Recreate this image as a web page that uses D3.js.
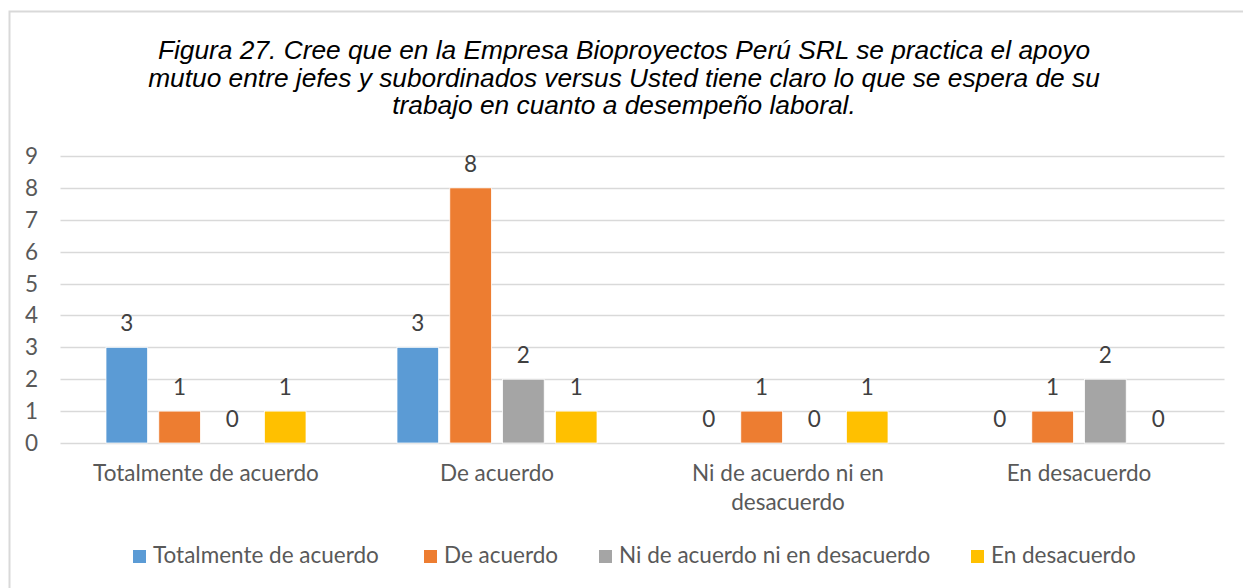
<!DOCTYPE html>
<html>
<head>
<meta charset="utf-8">
<script src="https://cdn.jsdelivr.net/npm/d3@7"></script>
<style>
  body { margin: 0; background: #fff; }
  svg { display: block; }
</style>
</head>
<body>
<div class="container"></div>
<script>
const categories = ["Totalmente de acuerdo", "De acuerdo", "Ni de acuerdo ni en desacuerdo", "En desacuerdo"];
const seriesNames = ["Totalmente de acuerdo", "De acuerdo", "Ni de acuerdo ni en desacuerdo", "En desacuerdo"];
const seriesColors = ["#5B9BD5", "#ED7D31", "#A5A5A5", "#FFC000"];
// values[series][category]
const values = [
  [3, 3, 0, 0],
  [1, 8, 1, 1],
  [0, 2, 0, 2],
  [1, 1, 1, 0]
];
const yTicks = [0, 1, 2, 3, 4, 5, 6, 7, 8, 9];
const titleLines = [
  "Figura 27. Cree que en la Empresa Bioproyectos Perú SRL se practica el apoyo",
  "mutuo entre jefes y subordinados versus Usted tiene claro lo que se espera de su",
  "trabajo en cuanto a desempeño laboral."
];

const w = 1243, h = 588;
const font = "Lato, 'Open Sans', sans-serif";
const fs = 22.5;
const textColor = "#595959";

const svg = d3.select(".container").append("svg")
  .attr("width", w)
  .attr("height", h);

// chart frame (runs off the right and bottom edges)
svg.append("rect")
  .attr("x", 9.5).attr("y", 11.5)
  .attr("width", 1300).attr("height", 700)
  .attr("fill", "#fff")
  .attr("stroke", "#D9D9D9")
  .attr("stroke-width", 2);

// title
svg.append("g")
  .selectAll("text")
  .data(titleLines)
  .enter()
  .append("text")
  .attr("x", 624)
  .attr("y", (d, i) => 59 + i * 27.5)
  .attr("text-anchor", "middle")
  .attr("font-family", "'Liberation Sans', Arial, sans-serif")
  .attr("font-style", "italic")
  .attr("font-size", 26.3)
  .attr("fill", "#000")
  .text(d => d);

const x0 = 60.5, x1 = 1224.5, yTop = 156, yBot = 443;

const x = d3.scaleBand()
  .domain(categories)
  .range([x0, x1]);

const xs = d3.scaleBand()
  .domain(seriesNames)
  .range([45.5, x.bandwidth() - 45.5])
  .paddingInner(0.2125)
  .paddingOuter(0);

const y = d3.scaleLinear()
  .domain([0, 9])
  .range([yBot, yTop]);

// gridlines
svg.append("g")
  .selectAll("line")
  .data(yTicks)
  .enter()
  .append("line")
  .attr("x1", x0).attr("x2", x1)
  .attr("y1", d => Math.round(y(d)) + 0.5)
  .attr("y2", d => Math.round(y(d)) + 0.5)
  .attr("stroke", "#D9D9D9")
  .attr("stroke-width", 1.5);

// y axis labels
svg.append("g")
  .selectAll("text")
  .data(yTicks)
  .enter()
  .append("text")
  .attr("x", 38)
  .attr("y", d => y(d) + 8)
  .attr("text-anchor", "end")
  .attr("font-family", font)
  .attr("font-size", fs)
  .attr("fill", textColor)
  .text(d => d);

// bars
const groups = svg.append("g")
  .selectAll("g")
  .data(seriesNames)
  .enter()
  .append("g")
  .attr("fill", (d, i) => seriesColors[i]);

groups.each(function(s, si) {
  const g = d3.select(this);
  g.selectAll("rect")
    .data(categories)
    .enter()
    .append("rect")
    .attr("x", c => x(c) + xs(s))
    .attr("width", xs.bandwidth())
    .attr("y", (c, ci) => y(values[si][ci]))
    .attr("height", (c, ci) => y(0) - y(values[si][ci]))
    .attr("stroke", "#fff")
    .attr("stroke-width", 0.75);

  g.selectAll("text")
    .data(categories)
    .enter()
    .append("text")
    .attr("x", c => x(c) + xs(s) + xs.bandwidth() / 2)
    .attr("y", (c, ci) => y(values[si][ci]) - 16)
    .attr("text-anchor", "middle")
    .attr("font-family", font)
    .attr("font-size", fs)
    .attr("fill", "#404040")
    .text((c, ci) => values[si][ci]);
});

// x axis labels (wrapped like the original)
const xLabelLines = {
  "Ni de acuerdo ni en desacuerdo": ["Ni de acuerdo ni en", "desacuerdo"]
};
svg.append("g")
  .selectAll("text")
  .data(categories)
  .enter()
  .append("text")
  .attr("text-anchor", "middle")
  .attr("font-family", font)
  .attr("font-size", fs)
  .attr("fill", textColor)
  .each(function(c) {
    const lines = xLabelLines[c] || [c];
    d3.select(this).selectAll("tspan")
      .data(lines)
      .enter()
      .append("tspan")
      .attr("x", x(c) + x.bandwidth() / 2)
      .attr("y", (d, i) => 481 + i * 29)
      .text(d => d);
  });

// legend
const legendX = [133, 424, 599, 971];
const legend = svg.append("g")
  .selectAll("g")
  .data(seriesNames)
  .enter()
  .append("g")
  .attr("transform", (d, i) => `translate(${legendX[i]},556)`);

legend.append("rect")
  .attr("x", 0).attr("y", -6)
  .attr("width", 13).attr("height", 13)
  .attr("fill", (d, i) => seriesColors[i]);

legend.append("text")
  .attr("x", 20)
  .attr("y", 7)
  .attr("font-family", font)
  .attr("font-size", fs)
  .attr("fill", textColor)
  .text(d => d);
</script>
</body>
</html>
